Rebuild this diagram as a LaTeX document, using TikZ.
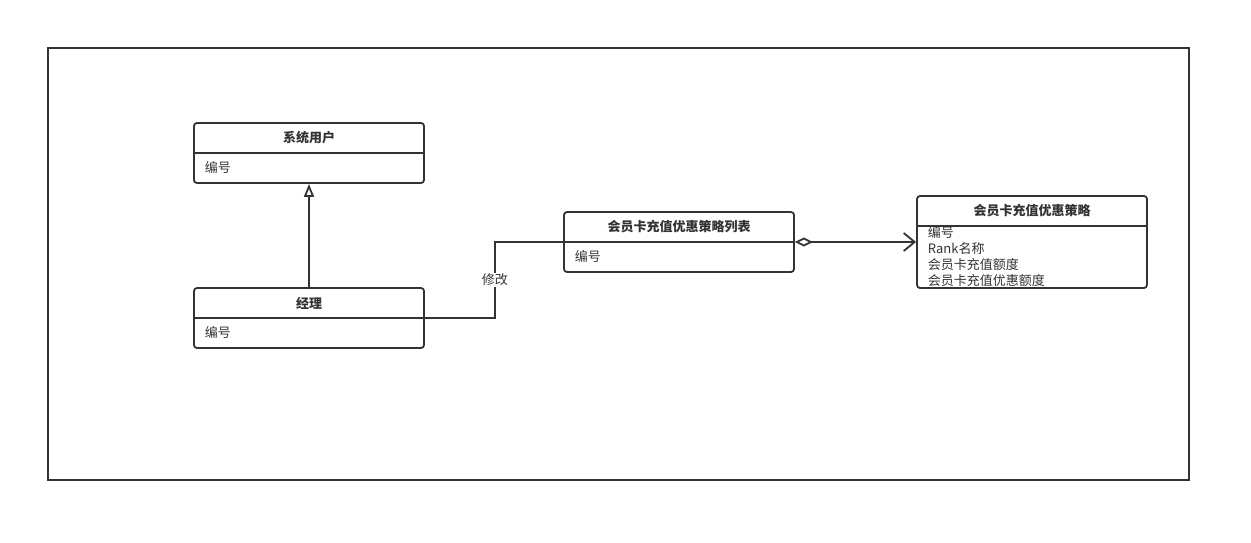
\documentclass[tikz,border=0pt]{standalone}
\usepackage{fontspec}
\setmainfont{Noto Sans CJK SC}
\usetikzlibrary{arrows.meta}

\tikzset{every picture/.style={line width=1.8pt}}
\tikzset{
  cls/.style={draw={rgb,255:red,51;green,51;blue,51}, rounded corners=3, minimum width=230, inner sep=0},
  ttl/.style={font=\fontsize{13}{15}\selectfont\bfseries, text={rgb,255:red,51;green,51;blue,51}},
  attr/.style={font=\fontsize{13}{16}\selectfont, text={rgb,255:red,51;green,51;blue,51}, anchor=west, inner sep=0, align=left},
  link/.style={draw={rgb,255:red,51;green,51;blue,51}}
}

\begin{document}
\begin{tikzpicture}[x=1pt,y=1pt,yscale=-1,xscale=1]
\useasboundingbox (0,0) rectangle (1251,542);

% frame
\draw [color={rgb,255:red,51;green,51;blue,51}] (48,48) rectangle (1189,480);

% classes
\node [cls, minimum height=60] (yh) at (309,153) {};
\draw [link] (194,153) -- (424,153);
\draw (309,138) node [ttl] (yhT) {系统用户};
\draw (204,168) node [attr] (yhA) {编号};

\node [cls, minimum height=60] (jl) at (309,318) {};
\draw [link] (194,318) -- (424,318);
\draw (309,303) node [ttl] (jlT) {经理};
\draw (204,333) node [attr] (jlA) {编号};

\node [cls, minimum height=60] (lb) at (679,242) {};
\draw [link] (564,242) -- (794,242);
\draw (679,227) node [ttl] (lbT) {会员卡充值优惠策略列表};
\draw (574,257) node [attr] (lbA) {编号};

\node [cls, minimum height=92] (cl) at (1032,242) {};
\draw [link] (917,226) -- (1147,226);
\draw (1032,211) node [ttl] (clT) {会员卡充值优惠策略};
\draw (927,257) node [attr] (clA) {编号\\Rank名称\\会员卡充值额度\\会员卡充值优惠额度};

% connectors
\draw [link, -{Triangle[open, length=13, width=10]}] (jl.north) -- (yh.south);
\draw [link] (jl.east) -- ++(70,0) |- (lb.west) node [pos=0.25, fill=white, inner sep=1, font=\fontsize{13}{15}\selectfont, text={rgb,255:red,51;green,51;blue,51}] (xg) {修改};
\draw [link, {Diamond[open, length=18, width=9]}-{Straight Barb[length=11, width=18]}] (lb.east) -- (cl.west);

\end{tikzpicture}
\end{document}
